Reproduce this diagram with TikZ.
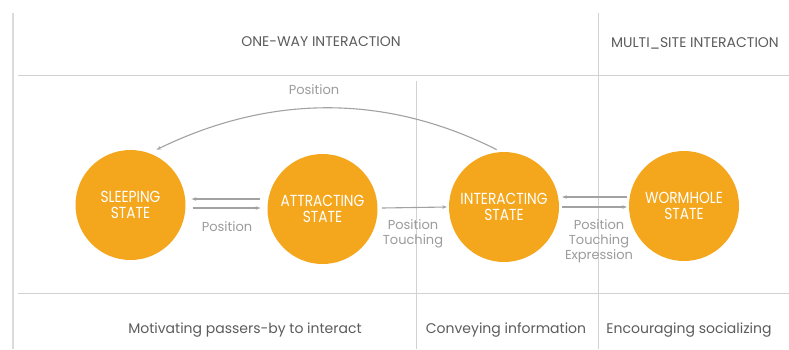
\documentclass[tikz,border=0pt]{standalone}
\usepackage{fontspec}
\setmainfont{Poppins}
\newfontfamily\statefamily[FakeStretch=0.86]{Poppins}
\usetikzlibrary{arrows.meta}
\definecolor{stateorange}{HTML}{F4A71D}
\definecolor{gridgray}{HTML}{D2D2D2}
\definecolor{arrowgray}{HTML}{A2A2A2}
\definecolor{labelgray}{HTML}{9C9C9C}
\definecolor{headgray}{HTML}{5C5C5C}
\tikzset{
  state/.style={circle, fill=stateorange, minimum size=110pt, inner sep=0pt,
    text=white, align=center, font=\statefamily\fontsize{16}{16.5}\selectfont},
  grid/.style={draw=gridgray, line width=1pt},
  arr/.style={draw=arrowgray, line width=1.1pt, -{Stealth[length=4.5pt,width=3.5pt]}},
  translabel/.style={text=labelgray, align=center, inner sep=0pt,
    font=\fontsize{13}{15}\selectfont},
  header/.style={text=headgray, inner sep=0pt, font=\fontsize{14}{16}\selectfont},
  purpose/.style={text=headgray, inner sep=0pt, font=\fontsize{14}{16}\selectfont},
}
\begin{document}
\begin{tikzpicture}[x=1pt, y=-1pt]
  \useasboundingbox[fill=white] (0,0) rectangle (789,349);

  % table rules
  \draw[draw=gridgray!80, line width=2pt] (13,13) -- (13,349);
  \draw[grid] (598,13) -- (598,349);
  \draw[grid] (416,81) -- (416,349);
  \draw[grid] (18,75) -- (789,75);
  \draw[grid] (18,293) -- (789,293);

  % column headers
  \node[header] (hone) at (321,42) {ONE-WAY INTERACTION};
  \node[header] (hmulti) at (695,43) {MULTI\_SITE INTERACTION};

  % states
  \node[state] (sleep) at (130.5,205) {SLEEPING\\STATE};
  \node[state] (attract) at (322.5,209) {ATTRACTING\\STATE};
  \node[state] (inter) at (504,207) {INTERACTING\\STATE};
  \node[state] (worm) at (684,206) {WORMHOLE\\STATE};

  % transitions
  \draw[arr] ([shift={(-7pt,10pt)}]attract.west) -- ([shift={(6pt,6pt)}]sleep.east);
  \draw[arr] ([shift={(7pt,-3pt)}]sleep.east) -- ([shift={(-7pt,1pt)}]attract.west);
  \draw[arr] ([shift={(4.5pt,1pt)}]attract.east) -- ([shift={(-2pt,0pt)}]inter.west);
  \draw[arr] ([shift={(-2pt,9pt)}]worm.west) -- ([shift={(3pt,10pt)}]inter.east);
  \draw[arr] ([shift={(3pt,0pt)}]inter.east) -- ([shift={(-2pt,-1pt)}]worm.west);
  \draw[arr, shorten <=5pt, shorten >=8pt]
    (inter.93) .. controls +(-117,-59) and +(119,-58) .. (sleep.70);

  % transition labels
  \node[translabel] (lpos) at (227,227) {Position};
  \node[translabel] (lpt) at (413,234) {Position\\Touching};
  \node[translabel] (lpte) at (599,241) {Position\\Touching\\Expression};
  \node[translabel] (ltop) at (314,90) {Position};

  % row purposes
  \node[purpose] (pmot) at (245,330) {Motivating passers-by to interact};
  \node[purpose] (pconv) at (506,330) {Conveying information};
  \node[purpose] (penc) at (689,330) {Encouraging socializing};
\end{tikzpicture}
\end{document}
